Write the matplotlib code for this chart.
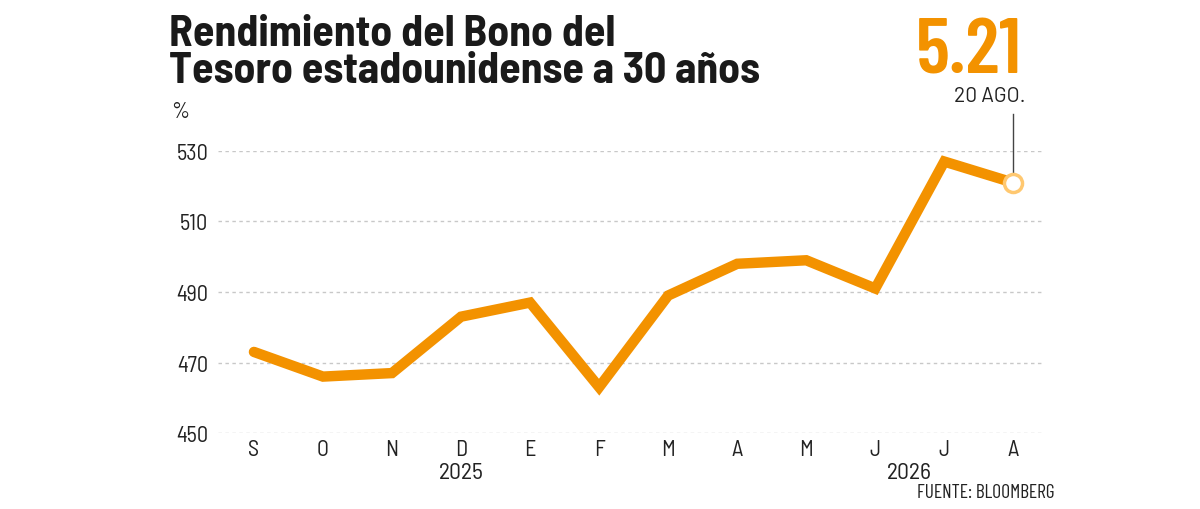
import matplotlib.pyplot as plt
from matplotlib import font_manager

meses = ["S", "O", "N", "D", "E", "F", "M", "A", "M", "J", "J", "A"]
rendimiento = [473, 466, 467, 483, 487, 463, 489, 498, 499, 491, 527, 521]
y_ticks = [450, 470, 490, 510, 530]
anios = ["2025", "2026"]
anio_pos = [3.0, 9.5]

nombres = {f.name for f in font_manager.fontManager.ttflist}


def elegir(*opciones):
    for o in opciones:
        if o in nombres:
            return [o, "DejaVu Sans"]
    return ["DejaVu Sans"]


f_titulo = elegir("Barlow Semi Condensed", "Roboto Condensed", "Roboto")
f_cifra = elegir("Barlow Condensed", "Roboto Condensed", "Roboto")
f_texto = elegir("Barlow Semi Condensed", "Roboto Condensed", "Roboto")
f_ancha = elegir("Barlow", "Roboto")
plt.rcParams["font.family"] = f_texto

naranja = "#F39200"

fig = plt.figure(figsize=(12, 5.1), dpi=100)
ax = fig.add_axes([0.1817, 0.149, 0.6875, 0.553])

x = list(range(len(meses)))
ax.plot(x, rendimiento, color=naranja, lw=7.5, solid_capstyle="round",
        solid_joinstyle="miter", clip_on=False, zorder=3)
ax.plot(x[-1], rendimiento[-1], "o", ms=13, mfc="white", mec="#FFC870",
        mew=2.5, clip_on=False, zorder=4)
# linea guia hacia la etiqueta
ax.plot([x[-1], x[-1]], [rendimiento[-1] + 2.3, 540.5], color="#444444",
        lw=1, clip_on=False, zorder=2)

ax.set_xlim(-0.52, 11.43)
ax.set_ylim(450, 530)
ax.set_yticks(y_ticks)
ax.set_xticks(x)
ax.set_xticklabels(meses)
ax.tick_params(axis="both", length=0, labelsize=16, colors="#222222")
ax.tick_params(axis="x", pad=4)
ax.tick_params(axis="y", pad=7)
for s in ax.spines.values():
    s.set_visible(False)
ax.grid(axis="y", color="#c8c8c8", lw=1, linestyle=(0, (2.5, 2.5)))
ax.set_axisbelow(True)

for a, p in zip(anios, anio_pos):
    ax.text(p, -0.14, a, transform=ax.get_xaxis_transform(), ha="center",
            va="center", fontsize=17, color="#222222")

fig.text(169 / 1200, 1 - 34 / 510, "Rendimiento del Bono del",
         fontsize=31.5, fontweight="bold", color="#1a1a1a", va="center",
         family=f_titulo)
fig.text(169 / 1200, 1 - 72 / 510, "Tesoro estadounidense a 30 años",
         fontsize=31.5, fontweight="bold", color="#1a1a1a", va="center",
         family=f_titulo)
fig.text(171 / 1200, 1 - 112 / 510, "%", fontsize=16, color="#222222",
         va="center")

fig.text(1022 / 1200, 1 - 53 / 510, "5.21", fontsize=57, fontweight=600,
         color=naranja, ha="right", va="center", family=f_cifra)
fig.text(1025 / 1200, 1 - 97 / 510, "20 AGO.", fontsize=15,
         color="#222222", ha="right", va="center", family=f_ancha)

fig.text(1055 / 1200, 1 - 493 / 510, "FUENTE: BLOOMBERG", fontsize=14,
         color="#222222", ha="right", va="center", family=f_cifra)

fig.savefig("out.png", dpi=100)
